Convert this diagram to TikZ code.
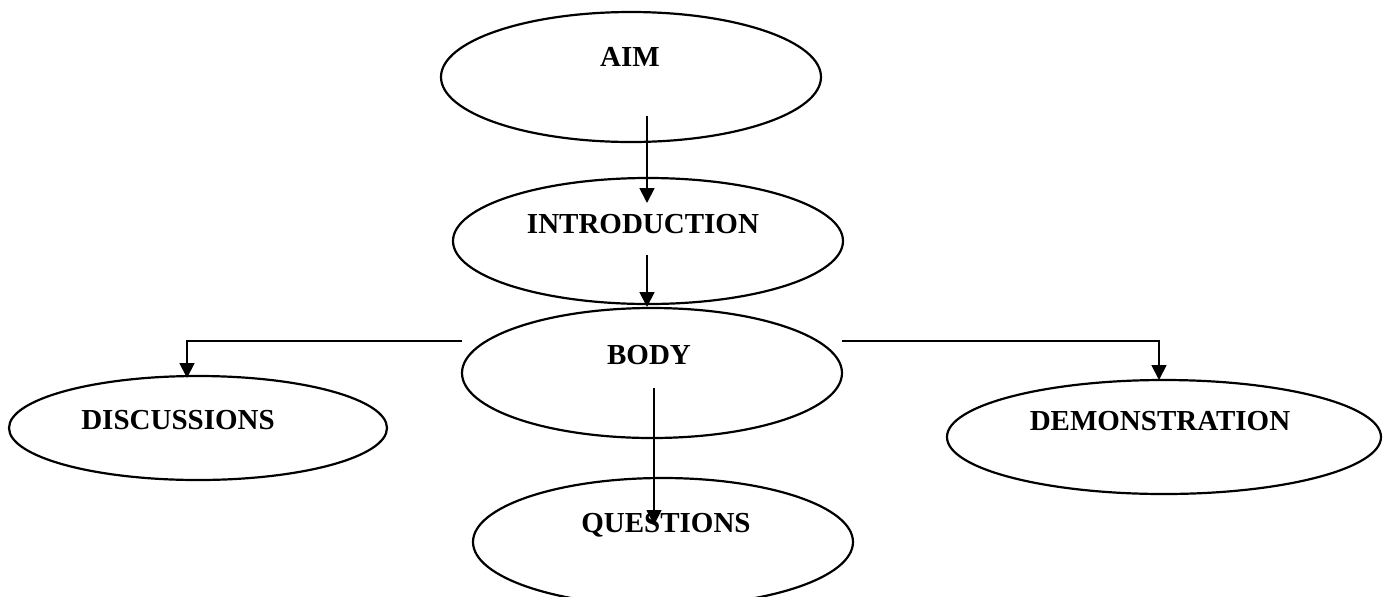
\documentclass[tikz,border=0pt]{standalone}
\usepackage{fontspec}
\setmainfont{Liberation Serif}
\usepackage{tikz}
\usetikzlibrary{shapes.geometric, arrows.meta, calc}
\tikzset{
  oval/.style={ellipse, draw=black, line width=1.1pt, inner sep=0pt, outer sep=0pt},
  lbl/.style={font=\fontsize{14.5}{16}\selectfont\bfseries, text=black, inner sep=0pt, anchor=base},
  flow/.style={-{Triangle[length=7.5pt, width=7.5pt]}, line width=0.9pt, color=black},
}

\begin{document}
\begin{tikzpicture}[x=0.5pt, y=-0.5pt]
  \useasboundingbox (0,0) rectangle (1389,596);
  \clip (0,0) rectangle (1389,596);
  \node[oval, minimum width=190pt, minimum height=65pt] (aim) at (631,77) {};
  \node[oval, minimum width=195pt, minimum height=63pt] (intro) at (648,241) {};
  \node[oval, minimum width=190pt, minimum height=65pt] (body) at (652,373) {};
  \node[oval, minimum width=190pt, minimum height=64pt] (questions) at (663,542) {};
  \node[oval, minimum width=189pt, minimum height=52pt] (disc) at (198,428) {};
  \node[oval, minimum width=217pt, minimum height=57pt] (demo) at (1164,437) {};
  \node[lbl] (aimtxt) at (630,66) {AIM};
  \node[lbl] (introtxt) at (643,233) {INTRODUCTION};
  \node[lbl] (bodytxt) at (649,364) {BODY};
  \node[lbl] (disctxt) at (178,429) {DISCUSSIONS};
  \node[lbl] (demotxt) at (1160,430) {DEMONSTRATION};
  \draw[flow] ($(aim.center)+(16,39)$) -- ($(intro.center)+(-1,-38)$);
  \draw[flow] ($(intro.center)+(-1,14)$) -- ($(body.center)+(-5,-66)$);
  \draw[flow] ($(body.west)+(0,-32)$) -| ($(disc.north)+(-11,2)$);
  \draw[flow] ($(body.east)+(0,-32)$) -| ($(demo.north)+(-5,0)$);
  \node[lbl] (questionstxt) at (666,532) {QUESTIONS};
  \draw[flow] ($(body.center)+(2,15)$) -- ($(questions.center)+(-9,-17)$);
\end{tikzpicture}
\end{document}
